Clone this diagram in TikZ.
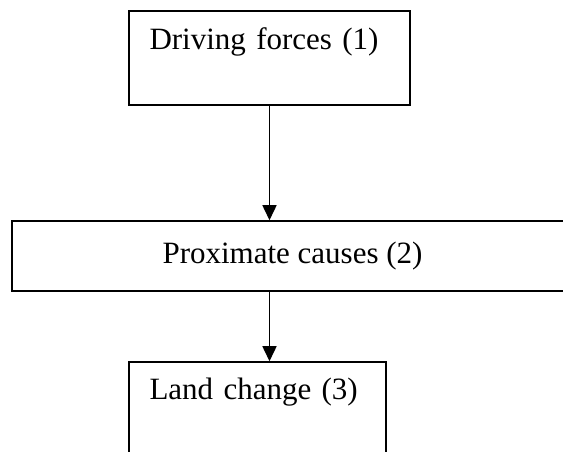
\documentclass[tikz,border=0pt]{standalone}
\usepackage{fontspec}
\setmainfont{Liberation Serif}
\usetikzlibrary{shapes,arrows.meta,calc}
\tikzstyle{line} = [draw, line width=1.5pt, -{Triangle[length=15pt,width=14pt]}]
\tikzstyle{block} = [draw, rectangle, line width=1.5pt, inner sep=0pt, font=\fontsize{31pt}{37pt}\selectfont]
\tikzstyle{textbox} = [block, align=left, inner xsep=20.5pt]
\begin{document}
\begin{tikzpicture}[node distance = 198pt]
        \useasboundingbox (0,0) rectangle (563pt,452pt);
        \clip (0,0) rectangle (563pt,452pt);
        \node[textbox, text width=240pt, text height=39pt, text depth=55pt] (forces) at (269.5pt,394pt) {Driving forces (1)};
        \node[block, minimum width=561pt, minimum height=70pt, below of=forces, xshift=23pt] (prox) {Proximate causes (2)};
        \node[textbox, text width=216pt, text height=38pt, text depth=56pt, below of=prox, node distance=153pt, xshift=-35pt] (land) {Land change (3)};
        \path[line] (forces.south) -- (forces.south |- prox.north);
        \path[line] (prox.south -| forces) -- (land.north -| forces);
    \end{tikzpicture}
\end{document}
